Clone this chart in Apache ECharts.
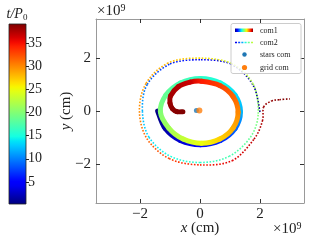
<!DOCTYPE html>
<html><head><meta charset="utf-8">
<script src="https://cdn.jsdelivr.net/npm/echarts@6/dist/echarts.min.js"></script>
<style>html,body{margin:0;padding:0;background:#fff}#c{width:320px;height:240px}</style>
</head><body><div id="c"></div>
<script>
// ---- data (x, y in units of 1e9 cm; t in units of P0) ----
const tMin = 0.25, tMax = 39.1;
const com1X = [-1.41,-1.16,-0.655,0.015,0.68,1.17,1.35,1.17,0.68,0.015,-0.65,-1.14,-1.32,
               -1.04,-0.56,0.05,0.66,1.105,1.27,1.105,0.66,0.05,
               -0.33,-0.72,-0.98,-1.0,-0.92,-0.77,-0.57];
const com1Y = [0.0,-0.65,-1.10,-1.26,-1.10,-0.65,-0.025,0.60,1.06,1.23,1.06,0.60,-0.025,
               -0.635,-1.05,-1.21,-1.05,-0.63,-0.045,0.54,0.96,1.12,
               1.09,0.92,0.57,0.30,0.09,-0.02,-0.02];
const com1T = [0.25,1.5,3,4.5,6.5,9,12,13.5,15,16,17.2,18.5,20,
               21.5,23,25,27,28.5,30,31.5,33,34.5,
               36.5,37.3,37.9,38.3,38.6,38.9,39.1];
const com2X = [2.00,1.76,1.03,0.0,-1.02,-1.76,-1.92,-1.70,-0.98,0.0,0.97,1.68,1.94,
               1.77,1.05,0.0,-1.06,-1.80,-2.02,-1.77,-1.03,0.0,1.07,1.80,2.08,2.12,
               2.38,2.65,3.0];
const com2Y = [-0.03,1.0,1.77,1.93,1.76,1.0,0.0,-0.98,-1.70,-1.93,-1.70,-0.98,-0.1,
               1.02,1.79,1.99,1.81,1.04,0.0,-1.03,-1.78,-2.02,-1.86,-1.05,-0.37,0.15,
               0.38,0.43,0.46];
const com2T = [0.25,1.5,3,4.5,6.5,9,12,13.5,15,16,17.2,18.5,20,
               22,24,26.5,28,29,30,31.5,33,34.5,35.8,37,37.6,38.1,
               38.5,38.8,39.1];
const starsCom = [[-0.12, 0.02]];
const gridCom = [[-0.02, 0.02]];
const axisTicks = [-2, 0, 2];
const cbTicks = [5, 10, 15, 20, 25, 30, 35];
const legendNames = ['com1', 'com2', 'stars com', 'grid com'];

// ---- helpers ----
const F = 'Liberation Serif';
function interp(pts, v) {
  for (let i = 1; i < pts.length; i++) {
    if (v <= pts[i][0]) {
      const a = pts[i-1], b = pts[i];
      return a[1] + (b[1]-a[1]) * (v-a[0]) / (b[0]-a[0]);
    }
  }
  return pts[pts.length-1][1];
}
function jet(v) {
  v = Math.max(0, Math.min(1, v));
  const r = interp([[0,0],[0.35,0],[0.66,1],[0.89,1],[1,0.5]], v);
  const g = interp([[0,0],[0.125,0],[0.375,1],[0.64,1],[0.91,0],[1,0]], v);
  const b = interp([[0,0.5],[0.11,1],[0.34,1],[0.65,0],[1,0]], v);
  return 'rgb(' + Math.round(r*255) + ',' + Math.round(g*255) + ',' + Math.round(b*255) + ')';
}
function jetT(t) { return jet((t - tMin) / (tMax - tMin)); }
function jetStops() {
  const s = [];
  for (let i = 0; i <= 40; i++) s.push({offset: i/40, color: jet(i/40)});
  return s;
}
function segs(X, Y, T) {
  const out = [], n = X.length;
  for (let i = 0; i < n - 1; i++) {
    const a = Math.max(i-1, 0), d = Math.min(i+2, n-1);
    out.push([X[a],Y[a],X[i],Y[i],X[i+1],Y[i+1],X[d],Y[d],T[i],T[i+1]]);
  }
  return out;
}
function makeRender(width, dash) {
  return function (params, api) {
    const p = [0,2,4,6].map(k => api.coord([api.value(k), api.value(k+1)]));
    const p0 = p[0], p1 = p[1], p2 = p[2], p3 = p[3];
    const c1 = [p1[0] + (p2[0]-p0[0])/6, p1[1] + (p2[1]-p0[1])/6];
    const c2 = [p2[0] - (p3[0]-p1[0])/6, p2[1] - (p3[1]-p1[1])/6];
    const grad = new echarts.graphic.LinearGradient(p1[0], p1[1], p2[0] + 0.01, p2[1] + 0.01,
      [{offset:0, color: jetT(api.value(8))}, {offset:1, color: jetT(api.value(9))}], true);
    return {
      type: 'bezierCurve',
      shape: {x1:p1[0], y1:p1[1], x2:p2[0], y2:p2[1], cpx1:c1[0], cpy1:c1[1], cpx2:c2[0], cpy2:c2[1]},
      style: {stroke: grad, fill: 'none', lineWidth: width, lineCap: dash ? 'butt' : 'round', lineDash: dash || null}
    };
  };
}
function fmt(v) { return v < 0 ? '\u2212' + Math.abs(v) : String(v); }

const XR = 3.467, YMIN = -3.45, YMAX = 3.46;
const frame = {show: true, onZero: false, lineStyle: {color: '#999', width: 1}};
const tickIn = {show: true, inside: true, length: 4, customValues: axisTicks, lineStyle: {color: '#333', width: 1}};
const lbl = {fontFamily: F, fontSize: 15, color: '#222', customValues: axisTicks, formatter: fmt};

const chart = echarts.init(document.getElementById('c'), null, {renderer: 'canvas'});
chart.setOption({
  animation: false,
  grid: [
    {left: 96, top: 19, width: 208, height: 184},
    {left: 9, top: 24, width: 17, height: 180}
  ],
  xAxis: [
    {gridIndex: 0, type: 'value', min: -XR, max: XR, position: 'bottom', axisLine: frame, axisTick: tickIn,
     axisLabel: Object.assign({margin: 4}, lbl), splitLine: {show: false}},
    {gridIndex: 0, type: 'value', min: -XR, max: XR, position: 'top', axisLine: frame, axisTick: tickIn,
     axisLabel: {show: false}, splitLine: {show: false}},
    {gridIndex: 1, type: 'category', data: ['cb'], show: false}
  ],
  yAxis: [
    {gridIndex: 0, type: 'value', min: YMIN, max: YMAX, position: 'left', axisLine: frame, axisTick: tickIn,
     axisLabel: Object.assign({margin: 5}, lbl), splitLine: {show: false}},
    {gridIndex: 0, type: 'value', min: YMIN, max: YMAX, position: 'right', axisLine: frame, axisTick: tickIn,
     axisLabel: {show: false}, splitLine: {show: false}},
    {gridIndex: 1, type: 'value', min: tMin, max: tMax, position: 'right',
     axisLine: {show: false},
     axisTick: {show: true, length: 3, customValues: cbTicks, lineStyle: {color: '#222'}},
     axisLabel: {fontFamily: F, fontSize: 14, color: '#222', margin: 2, customValues: cbTicks},
     splitLine: {show: false}}
  ],
  series: [
    {type: 'bar', xAxisIndex: 2, yAxisIndex: 2, data: [tMax], barWidth: '100%', silent: true,
     itemStyle: {color: new echarts.graphic.LinearGradient(0, 1, 0, 0, jetStops())}},
    {name: legendNames[1], type: 'custom', xAxisIndex: 0, yAxisIndex: 0, data: segs(com2X, com2Y, com2T),
     encode: {x: [0,2,4,6], y: [1,3,5,7]}, renderItem: makeRender(1.6, [1.6, 1.6]), silent: true},
    {name: legendNames[0], type: 'custom', xAxisIndex: 0, yAxisIndex: 0, data: segs(com1X, com1Y, com1T),
     encode: {x: [0,2,4,6], y: [1,3,5,7]}, renderItem: makeRender(5, null), silent: true},
    {name: legendNames[2], type: 'scatter', xAxisIndex: 0, yAxisIndex: 0, data: starsCom, symbolSize: 5,
     itemStyle: {color: '#1f77b4'}, silent: true},
    {name: legendNames[3], type: 'scatter', xAxisIndex: 0, yAxisIndex: 0, data: gridCom, symbolSize: 6,
     itemStyle: {color: '#ff7f0e'}, silent: true}
  ],
  graphic: [
    {type: 'rect', z: 100, shape: {x: 9, y: 24, width: 17, height: 180},
     style: {fill: 'none', stroke: '#222', lineWidth: 0.8}},
    {type: 'text', z: 100, x: 17, y: 14, style: {text: '{i|t/P}{s|0}', align: 'center', verticalAlign: 'middle',
     rich: {i: {fontFamily: F, fontStyle: 'italic', fontSize: 14, fill: '#222', lineHeight: 16},
            s: {fontFamily: F, fontSize: 9, fill: '#222', lineHeight: 10, verticalAlign: 'bottom'}}}},
    {type: 'text', z: 100, x: 97, y: 11, style: {text: '\u00d710{s|9}', align: 'left', verticalAlign: 'middle',
     fontFamily: F, fontSize: 15, fill: '#222', lineHeight: 16,
     rich: {s: {fontFamily: F, fontSize: 10, fill: '#222', lineHeight: 10, verticalAlign: 'top'}}}},
    {type: 'text', z: 100, x: 273, y: 229, style: {text: '\u00d710{s|9}', align: 'left', verticalAlign: 'middle',
     fontFamily: F, fontSize: 15, fill: '#222', lineHeight: 16,
     rich: {s: {fontFamily: F, fontSize: 10, fill: '#222', lineHeight: 10, verticalAlign: 'top'}}}},
    {type: 'text', z: 100, x: 200, y: 228, style: {text: '{i|x} (cm)', align: 'center', verticalAlign: 'middle',
     fontFamily: F, fontSize: 15, fill: '#222', rich: {i: {fontFamily: F, fontStyle: 'italic', fontSize: 15, fill: '#222'}}}},
    {type: 'text', z: 100, x: 66, y: 111, rotation: Math.PI / 2, style: {text: '{i|y} (cm)', align: 'center', verticalAlign: 'middle',
     fontFamily: F, fontSize: 15, fill: '#222', rich: {i: {fontFamily: F, fontStyle: 'italic', fontSize: 15, fill: '#222'}}}},
    {type: 'rect', z: 100, shape: {x: 231, y: 23.5, width: 70, height: 50, r: 2},
     style: {fill: 'rgba(255,255,255,0.8)', stroke: '#ccc', lineWidth: 1}},
    {type: 'rect', z: 101, shape: {x: 235, y: 28.5, width: 18, height: 3.5},
     style: {fill: new echarts.graphic.LinearGradient(0, 0, 1, 0, jetStops())}},
    {type: 'line', z: 101, shape: {x1: 235, y1: 42.5, x2: 253, y2: 42.5},
     style: {stroke: new echarts.graphic.LinearGradient(0, 0, 1, 0, jetStops().slice(0, 28).map((s, i, a) => ({offset: i / (a.length - 1), color: s.color}))), lineWidth: 1.6, lineDash: [2, 1.2]}},
    {type: 'circle', z: 101, shape: {cx: 244.5, cy: 54.5, r: 2.2}, style: {fill: '#1f77b4'}},
    {type: 'circle', z: 101, shape: {cx: 244.5, cy: 67.5, r: 2.6}, style: {fill: '#ff7f0e'}},
    {type: 'text', z: 101, x: 260, y: 30.5, style: {text: legendNames[0], fontFamily: F, fontSize: 8, fill: '#222', verticalAlign: 'middle'}},
    {type: 'text', z: 101, x: 260, y: 43, style: {text: legendNames[1], fontFamily: F, fontSize: 8, fill: '#222', verticalAlign: 'middle'}},
    {type: 'text', z: 101, x: 260, y: 55, style: {text: legendNames[2], fontFamily: F, fontSize: 8, fill: '#222', verticalAlign: 'middle'}},
    {type: 'text', z: 101, x: 260, y: 68, style: {text: legendNames[3], fontFamily: F, fontSize: 8, fill: '#222', verticalAlign: 'middle'}}
  ]
});
</script></body></html>
